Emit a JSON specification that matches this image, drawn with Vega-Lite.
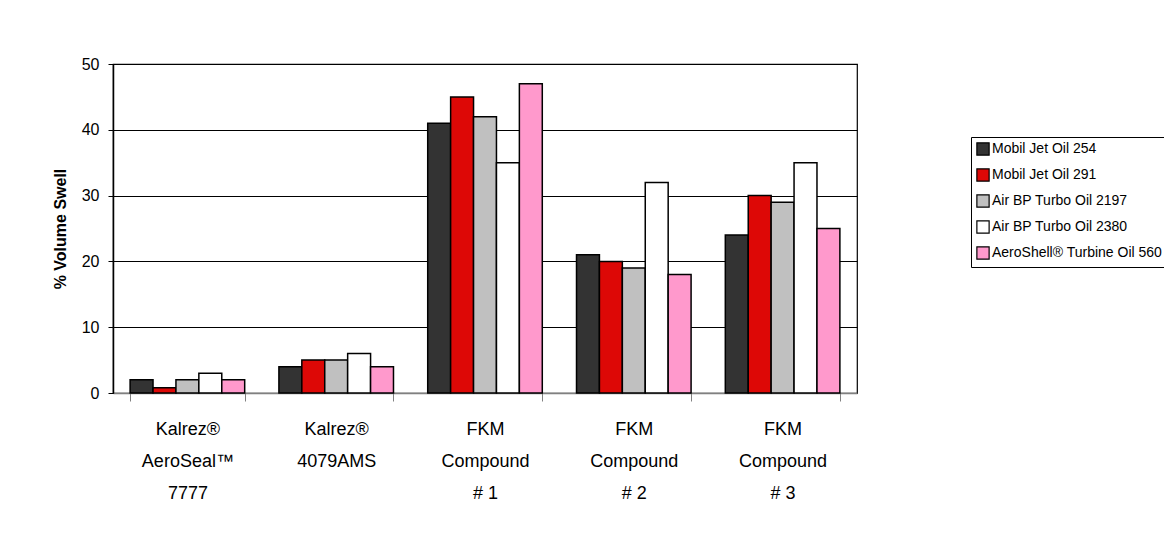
{
  "$schema": "https://vega.github.io/schema/vega-lite/v6.json",
  "width": 744,
  "height": 329,
  "autosize": {"type": "none"},
  "padding": {"left": 113, "top": 64, "right": 307, "bottom": 151},
  "background": "white",
  "config": {
    "view": {"stroke": "#000000", "strokeWidth": 1.2},
    "font": "Liberation Sans"
  },
  "data": {
    "values": [
      {"material": "Kalrez®|AeroSeal™|7777", "oil": "Mobil Jet Oil 254", "swell": 2},
      {"material": "Kalrez®|AeroSeal™|7777", "oil": "Mobil Jet Oil 291", "swell": 0.8},
      {"material": "Kalrez®|AeroSeal™|7777", "oil": "Air BP Turbo Oil 2197", "swell": 2},
      {"material": "Kalrez®|AeroSeal™|7777", "oil": "Air BP Turbo Oil 2380", "swell": 3},
      {"material": "Kalrez®|AeroSeal™|7777", "oil": "AeroShell® Turbine Oil 560", "swell": 2},
      {"material": "Kalrez®|4079AMS", "oil": "Mobil Jet Oil 254", "swell": 4},
      {"material": "Kalrez®|4079AMS", "oil": "Mobil Jet Oil 291", "swell": 5},
      {"material": "Kalrez®|4079AMS", "oil": "Air BP Turbo Oil 2197", "swell": 5},
      {"material": "Kalrez®|4079AMS", "oil": "Air BP Turbo Oil 2380", "swell": 6},
      {"material": "Kalrez®|4079AMS", "oil": "AeroShell® Turbine Oil 560", "swell": 4},
      {"material": "FKM|Compound|# 1", "oil": "Mobil Jet Oil 254", "swell": 41},
      {"material": "FKM|Compound|# 1", "oil": "Mobil Jet Oil 291", "swell": 45},
      {"material": "FKM|Compound|# 1", "oil": "Air BP Turbo Oil 2197", "swell": 42},
      {"material": "FKM|Compound|# 1", "oil": "Air BP Turbo Oil 2380", "swell": 35},
      {"material": "FKM|Compound|# 1", "oil": "AeroShell® Turbine Oil 560", "swell": 47},
      {"material": "FKM|Compound|# 2", "oil": "Mobil Jet Oil 254", "swell": 21},
      {"material": "FKM|Compound|# 2", "oil": "Mobil Jet Oil 291", "swell": 20},
      {"material": "FKM|Compound|# 2", "oil": "Air BP Turbo Oil 2197", "swell": 19},
      {"material": "FKM|Compound|# 2", "oil": "Air BP Turbo Oil 2380", "swell": 32},
      {"material": "FKM|Compound|# 2", "oil": "AeroShell® Turbine Oil 560", "swell": 18},
      {"material": "FKM|Compound|# 3", "oil": "Mobil Jet Oil 254", "swell": 24},
      {"material": "FKM|Compound|# 3", "oil": "Mobil Jet Oil 291", "swell": 30},
      {"material": "FKM|Compound|# 3", "oil": "Air BP Turbo Oil 2197", "swell": 29},
      {"material": "FKM|Compound|# 3", "oil": "Air BP Turbo Oil 2380", "swell": 35},
      {"material": "FKM|Compound|# 3", "oil": "AeroShell® Turbine Oil 560", "swell": 25}
    ]
  },
  "mark": {"type": "bar", "stroke": "#000000", "strokeWidth": 1.5},
  "encoding": {
    "x": {
      "field": "material",
      "type": "nominal",
      "sort": null,
      "scale": {"paddingInner": 0.23, "paddingOuter": 0.115},
      "axis": {
        "title": null,
        "labelAngle": 0,
        "labelExpr": "split(datum.label, '|')",
        "labelFontSize": 18,
        "labelLineHeight": 32,
        "labelColor": "#000000",
        "labelPadding": 19,
        "labelBaseline": "top",
        "tickBand": "extent",
        "tickSize": 8,
        "tickColor": "#808080",
        "domainColor": "#808080",
        "domainWidth": 1.5
      }
    },
    "xOffset": {
      "field": "oil",
      "type": "nominal",
      "sort": null,
      "scale": {"paddingInner": 0, "paddingOuter": 0}
    },
    "y": {
      "field": "swell",
      "type": "quantitative",
      "scale": {"domain": [0, 50], "nice": false},
      "axis": {
        "title": "% Volume Swell",
        "titleFontSize": 16,
        "titleFontWeight": "bold",
        "titleColor": "#000000",
        "titlePadding": 13,
        "values": [0, 10, 20, 30, 40, 50],
        "labelFontSize": 16,
        "labelColor": "#000000",
        "labelPadding": 9,
        "tickSize": 5,
        "tickColor": "#000000",
        "domainColor": "#000000",
        "domainWidth": 1.5,
        "grid": true,
        "gridColor": "#000000",
        "gridWidth": 1,
        "gridOpacity": 1
      }
    },
    "color": {
      "field": "oil",
      "type": "nominal",
      "sort": null,
      "scale": {
        "domain": ["Mobil Jet Oil 254", "Mobil Jet Oil 291", "Air BP Turbo Oil 2197", "Air BP Turbo Oil 2380", "AeroShell® Turbine Oil 560"],
        "range": ["#333333", "#DD0806", "#C0C0C0", "#FFFFFF", "#FF99CC"]
      },
      "legend": {
        "title": null,
        "orient": "none",
        "legendX": 858,
        "legendY": 73,
        "symbolType": "square",
        "symbolSize": 150,
        "symbolStrokeColor": "#000000",
        "symbolStrokeWidth": 1.2,
        "symbolOpacity": 1,
        "labelFontSize": 14,
        "labelColor": "#000000",
        "labelOffset": 2,
        "labelLimit": 300,
        "rowPadding": 8,
        "padding": 5,
        "strokeColor": "#000000",
        "fillColor": "#FFFFFF"
      }
    }
  }
}
